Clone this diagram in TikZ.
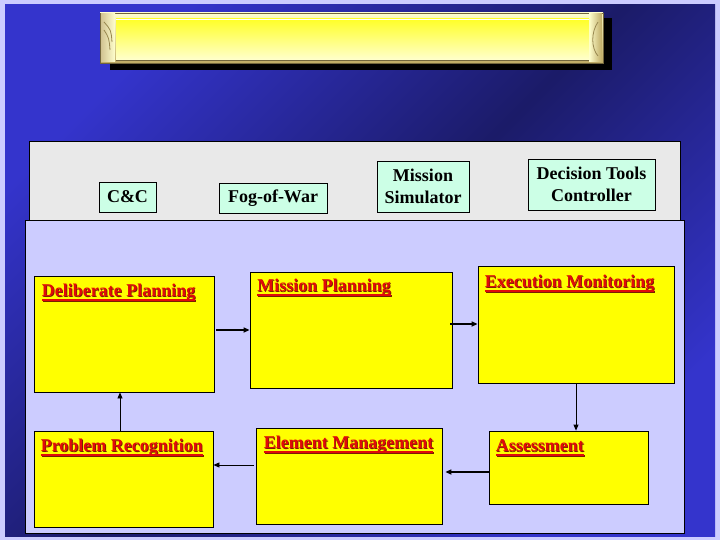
\documentclass[tikz,border=0pt]{standalone}
\usepackage{fontspec}
\setmainfont{Liberation Serif}
\usetikzlibrary{positioning, arrows.meta}

\definecolor{bgblue}{RGB}{52,52,204}
\definecolor{bgnavy}{RGB}{27,27,104}
\definecolor{lavender}{RGB}{204,204,255}
\definecolor{panelgrey}{RGB}{233,233,233}
\definecolor{mint}{RGB}{204,255,230}
\definecolor{boxyellow}{RGB}{255,255,0}
\definecolor{labelred}{RGB}{225,10,10}
\definecolor{labelshadow}{RGB}{120,30,0}
\definecolor{gold}{RGB}{190,170,100}
\definecolor{paleyellow}{RGB}{255,255,205}

% underline bar under a label
\newcommand\ulbar[1]{\setbox0\hbox{#1}\rlap{\vrule height -2.5pt depth 4.5pt width \wd0}\box0}
% red underlined title with a dark shadow
\newcommand\stagetitle[1]{\rlap{\kern0.8pt\raisebox{-0.8pt}{\color{labelshadow}\ulbar{#1}}}{\color{labelred}\ulbar{#1}}}

\tikzset{
  every node/.style={font=\fontsize{18}{22}\selectfont\bfseries},
  stage/.style={draw=black, fill=boxyellow, line width=0.8pt, inner sep=0pt},
  stagetext/.style={anchor=base west, inner sep=0pt},
  tool/.style={draw=black, fill=mint, line width=0.6pt, align=center, inner sep=0pt},
  flow/.style={-{Triangle[length=6pt,width=5pt]}, line width=#1},
  flow/.default=0.8pt
}

\begin{document}
\begin{tikzpicture}[x=1pt, y=-1pt]
\useasboundingbox (0,0) rectangle (720,540);
% background
\fill[lavender] (0,0) rectangle (720,540);
\shade[left color=bgblue, right color=bgblue, middle color=bgnavy, shading angle=45] (5,5) rectangle (715,536);

% title bar
\fill[black] (110,18) rectangle (612,70);
\shade[top color=paleyellow, bottom color=gold, draw=gold!60!black, line width=0.6pt] (100,13) rectangle (603,63);
\shade[left color=gold!70!white, right color=paleyellow] (101,14) rectangle (115,62);
\shade[left color=paleyellow, right color=gold] (589,14) rectangle (602,62);
\draw[gold!80!black, line width=0.8pt] (104,22) .. controls (111,30) .. (112,42);
\draw[gold!80!black, line width=0.8pt] (104,30) .. controls (109,38) .. (110,50);
\draw[gold!80!black, line width=0.8pt] (598,22) .. controls (591,32) and (591,48) .. (598,56);
\shade[top color={rgb,255:red,255;green,255;blue,40}, bottom color=paleyellow] (116,19) rectangle (589,60);
\draw[white, line width=1.2pt] (116,19.5) -- (589,19.5);
\draw[gold!60!black, line width=1pt] (116,60.5) -- (589,60.5);

% panels
\draw[fill=panelgrey, line width=0.6pt] (29.5,141.5) rectangle (680,222);
\draw[fill=lavender, line width=1pt] (25,221) rectangle (684,533);

% tools
\node[tool, minimum width=57pt, minimum height=30pt] (cc) at (127.5,197) {C\&C};
\node[tool, minimum width=108pt, minimum height=30pt] (fog) at (273,198) {Fog-of-War};
\node[tool, minimum width=92pt, minimum height=51pt] (msim) at (423,186.5) {Mission\\Simulator};
\node[tool, minimum width=127pt, minimum height=51pt] (dtc) at (591.5,184.5) {Decision Tools\\Controller};

% stages
\node[stage, minimum width=180pt, minimum height=116pt] (delib) at (124,334) {};
\node[stage, minimum width=202pt, minimum height=116pt] (mplan) at (351,330) {};
\node[stage, minimum width=196pt, minimum height=117pt] (exec) at (576,324.5) {};
\node[stage, minimum width=179pt, minimum height=96pt] (prob) at (123.5,479) {};
\node[stage, minimum width=186pt, minimum height=96pt] (elem) at (349,476) {};
\node[stage, minimum width=159pt, minimum height=73pt] (assess) at (568.5,467.5) {};

\node[stagetext] (delibtxt) at ([xshift=8pt,yshift=-21pt]delib.north west) {\stagetitle{Deliberate Planning}};
\node[stagetext] (mplantxt) at ([xshift=7.5pt,yshift=-20pt]mplan.north west) {\stagetitle{Mission Planning}};
\node[stagetext] (exectxt) at ([xshift=7pt,yshift=-22pt]exec.north west) {\stagetitle{Execution Monitoring}};
\node[stagetext] (probtxt) at ([xshift=7pt,yshift=-21pt]prob.north west) {\stagetitle{Problem Recognition}};
\node[stagetext] (elemtxt) at ([xshift=8pt,yshift=-21pt]elem.north west) {\stagetitle{Element Management}};
\node[stagetext] (assesstxt) at ([xshift=7pt,yshift=-21pt]assess.north west) {\stagetitle{Assessment}};

% connectors
\draw[flow=2pt] ([xshift=2pt,yshift=4pt]delib.east) -- (mplan.west);
\draw[flow=2pt] ([xshift=-2pt,yshift=6pt]mplan.east) -- ([yshift=0.5pt]exec.west);
\draw[flow] (exec.south) -- ([xshift=7.5pt]assess.north);
\draw[flow=2pt] ([yshift=-4.5pt]assess.west) -- ([xshift=3pt,yshift=4pt]elem.east);
\draw[flow] ([xshift=-2pt,yshift=11pt]elem.west) -- ([yshift=14pt]prob.east);
\draw[flow] ([xshift=-3.5pt]prob.north) -- ([xshift=-4pt]delib.south);
\end{tikzpicture}
\end{document}
